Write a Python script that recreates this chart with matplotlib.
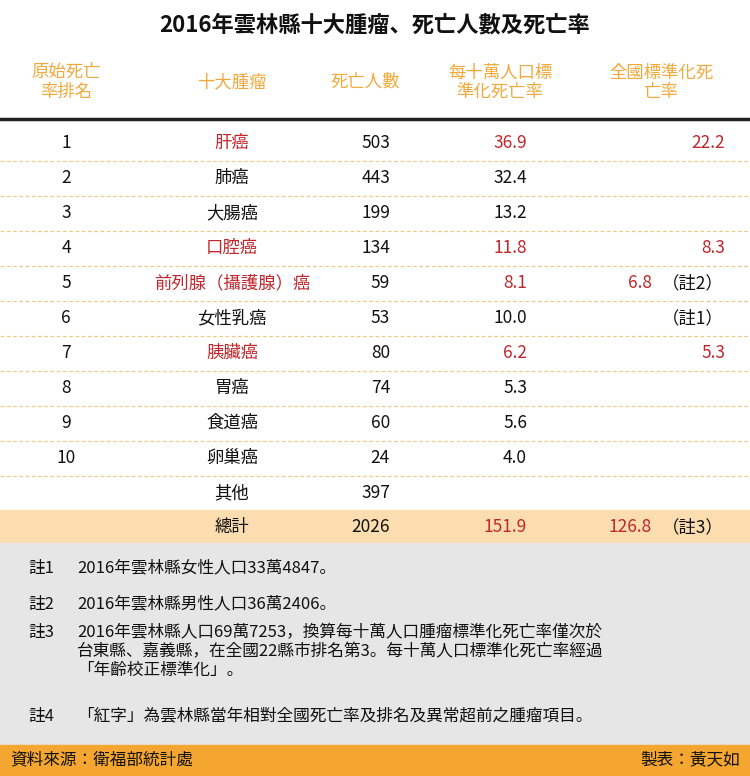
import matplotlib
matplotlib.use("Agg")
import matplotlib.pyplot as plt
from matplotlib.patches import Rectangle

plt.rcParams["font.family"] = ["Noto Sans CJK TC", "Noto Sans CJK JP", "Noto Sans CJK SC", "DejaVu Sans"]

title = "2016年雲林縣十大腫瘤、死亡人數及死亡率"
headers = ["原始死亡\n率排名", "十大腫瘤", "死亡人數", "每十萬人口標\n準化死亡率", "全國標準化死\n亡率"]
ranks = ["1", "2", "3", "4", "5", "6", "7", "8", "9", "10", "", "總計"]
names = ["肝癌", "肺癌", "大腸癌", "口腔癌", "前列腺（攝護腺）癌", "女性乳癌", "胰臟癌", "胃癌", "食道癌", "卵巢癌", "其他", "總計"]
deaths = ["503", "443", "199", "134", "59", "53", "80", "74", "60", "24", "397", "2026"]
rates = ["36.9", "32.4", "13.2", "11.8", "8.1", "10.0", "6.2", "5.3", "5.6", "4.0", "", "151.9"]
national = ["22.2", "", "", "8.3", "6.8", "", "5.3", "", "", "", "", "126.8"]
national_note = ["", "", "", "", "（註2）", "（註1）", "", "", "", "", "", "（註3）"]
is_red = [True, False, False, True, True, False, True, False, False, False, False, False]
notes = [("註1", "2016年雲林縣女性人口33萬4847。"),
         ("註2", "2016年雲林縣男性人口36萬2406。"),
         ("註3", "2016年雲林縣人口69萬7253，換算每十萬人口腫瘤標準化死亡率僅次於\n台東縣、嘉義縣，在全國22縣市排名第3。每十萬人口標準化死亡率經過\n「年齡校正標準化」。"),
         ("註4", "「紅字」為雲林縣當年相對全國死亡率及排名及異常超前之腫瘤項目。")]
source = "資料來源：衛福部統計處"
author = "製表：黃天如"

RED = "#C0272D"
ORANGE = "#F2A93B"

fig = plt.figure(figsize=(7.5, 7.76), dpi=100)
ax = fig.add_axes([0, 0, 1, 1])
ax.set_xlim(0, 750)
ax.set_ylim(776, 0)
ax.axis("off")

ax.text(375, 25, title, ha="center", va="center", fontsize=16, fontweight="bold", color="#111")
hx = [66, 232, 365, 500, 661]
for x, h in zip(hx, headers):
    ax.text(x, 82, h, ha="center", va="center", fontsize=12.5, color=ORANGE, linespacing=1.1)
ax.plot([0, 750], [119, 119], color="#222", lw=2.5)

ax.add_patch(Rectangle((0, 510), 750, 33, color="#FBDDB0", zorder=0))
ax.add_patch(Rectangle((0, 543), 750, 202, color="#E6E6E6", zorder=0))
ax.add_patch(Rectangle((0, 745), 750, 31, color="#F5A631", zorder=0))

y0, dy = 143, 35
for i in range(len(names)):
    y = y0 + dy * i if i < 11 else 527
    fs = 12.5
    if i < 11:
        ax.text(66, y, ranks[i], ha="center", va="center", fontsize=fs, color="#111")
    ax.text(232, y, names[i], ha="center", va="center", fontsize=fs, color=RED if is_red[i] else "#111")
    ax.text(390, y, deaths[i], ha="right", va="center", fontsize=fs, color="#111")
    rc = RED if (is_red[i] or i == 11) else "#111"
    ax.text(527, y, rates[i], ha="right", va="center", fontsize=fs, color=rc)
    if national_note[i]:
        if national[i]:
            ax.text(652, y, national[i], ha="right", va="center", fontsize=fs, color=RED)
            ax.text(724, y, national_note[i], ha="right", va="center", fontsize=fs, color="#111")
        else:
            ax.text(724, y, national_note[i], ha="right", va="center", fontsize=fs, color="#111")
    elif national[i]:
        ax.text(725, y, national[i], ha="right", va="center", fontsize=fs, color=RED)
    if i < 10:
        ax.plot([0, 750], [y + 17.5, y + 17.5], color="#F3C98A", lw=0.9, ls=(0, (3, 2)))

ny = [568, 604, 624, 716]
for (k, t), y in zip(notes, ny):
    multi = "\n" in t
    ax.text(28, y, k, ha="left", va="top" if multi else "center", fontsize=12, color="#111")
    ax.text(77, y, t, ha="left", va="top" if multi else "center", fontsize=12, color="#111", linespacing=1.15)

ax.text(10, 760, source, ha="left", va="center", fontsize=12, color="#111")
ax.text(740, 760, author, ha="right", va="center", fontsize=12, color="#111")

fig.savefig("out.png", dpi=100)
